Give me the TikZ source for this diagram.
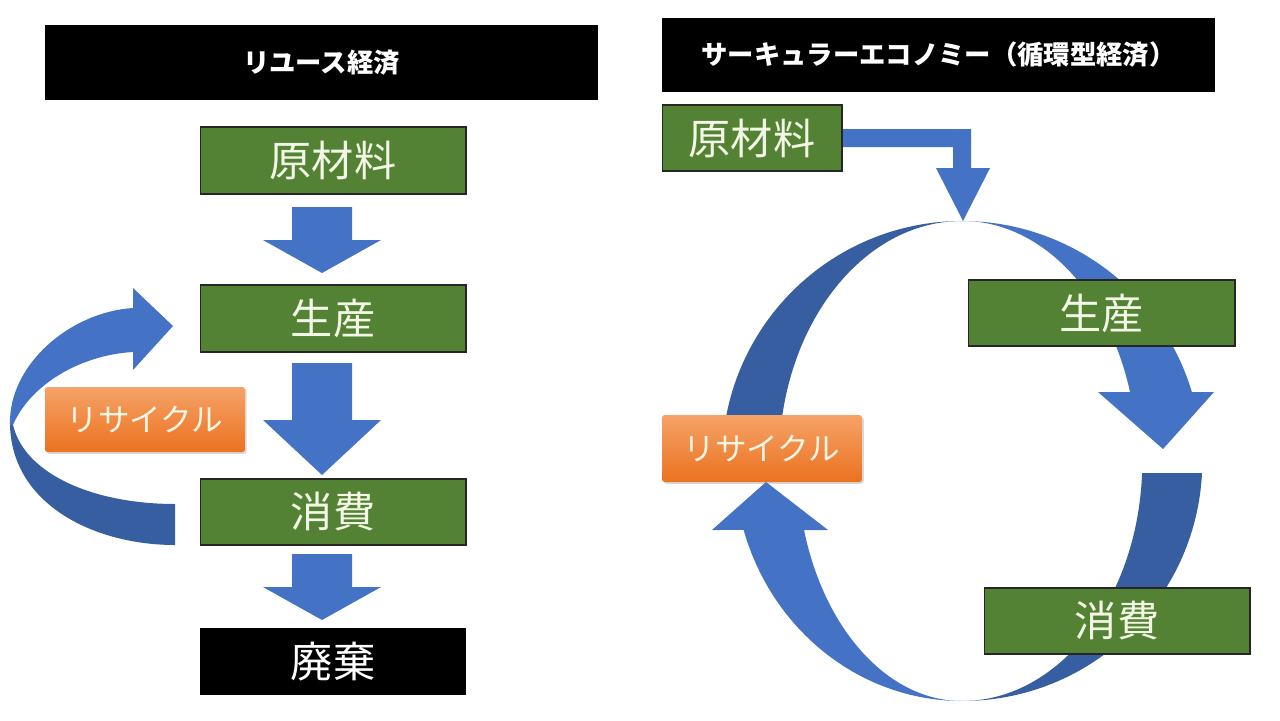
\documentclass[tikz,border=0pt]{standalone}
\usepackage{fontspec}
\newfontfamily\jp{Noto Sans CJK JP}
\usetikzlibrary{shadows,backgrounds}
\definecolor{boxgreen}{RGB}{84,130,53}
\definecolor{bluelight}{RGB}{68,114,196}
\definecolor{bluedark}{RGB}{55,94,160}
\definecolor{cream}{RGB}{242,246,228}
\definecolor{orlight}{RGB}{246,162,104}
\definecolor{ordark}{RGB}{235,114,32}
\newcommand\blockdown[4]{\fill[bluelight] (#1-30,#2) -- (#1+30,#2) -- (#1+30,#3) -- (#1+59,#3) -- (#1,#4) -- (#1-59,#3) -- (#1-30,#3) -- cycle;}
\tikzset{
  titlebox/.style={fill=black, text=white, inner sep=0pt, font=\jp\bfseries\fontsize{15}{15}\selectfont},
  greenbox/.style={fill=boxgreen, draw=black!85, line width=0.6pt, text=cream, inner sep=0pt, font=\jp\fontsize{24}{24}\selectfont},
  blackbox/.style={fill=black, text=white, inner sep=0pt, font=\jp\fontsize{24}{24}\selectfont},
  recbox/.style={top color=orlight, bottom color=ordark, rounded corners=1.5pt, text=cream, inner sep=0pt,
    drop shadow={opacity=0.3, shadow xshift=1pt, shadow yshift=-1pt},
    font=\jp\fontsize{18}{18}\selectfont, minimum width=4cm},
}
\begin{document}
\begin{tikzpicture}[x=0.02cm, y=-0.02cm]
\useasboundingbox (0,0) rectangle (1280,720);
% ---------- nodes ----------
\node[titlebox, minimum width=11.06cm, minimum height=1.5cm] (title1) at (321.5,62.5) {リユース経済};
\node[greenbox, minimum width=5.32cm, minimum height=1.34cm] (raw1) at (333,160.5) {原材料};
\node[greenbox, minimum width=5.32cm, minimum height=1.34cm] (prod1) at (333,318.5) {生産};
\node[greenbox, minimum width=5.32cm, minimum height=1.32cm] (cons1) at (333,512) {消費};
\node[blackbox, minimum width=5.32cm, minimum height=1.34cm] (waste1) at (333,661.5) {廃棄};
\node[recbox, minimum height=1.3cm] (rec1) at (145,419.5) {リサイクル};

\node[titlebox, minimum width=11.06cm, minimum height=1.48cm] (title2) at (938.5,55) {サーキュラーエコノミー（循環型経済）};
\node[greenbox, minimum width=3.6cm, minimum height=1.32cm] (raw2) at (752,138) {原材料};
\node[greenbox, minimum width=5.34cm, minimum height=1.32cm] (prod2) at (1101.5,313) {生産};
\node[greenbox, minimum width=5.32cm, minimum height=1.32cm] (cons2) at (1117,621) {消費};
\node[recbox, minimum height=1.34cm] (rec2) at (762,448.5) {リサイクル};

% ---------- arrows (behind nodes) ----------
\begin{scope}[on background layer]
\fill[white] (0,0) rectangle (1280,720);
% left column straight arrows
\blockdown{322}{207}{240}{273}
\blockdown{322}{363}{420}{475}
\blockdown{322}{554}{587}{620}
% left recycle arrow
\fill[bluedark] (10,425) .. controls (12,505) and (95,545) .. (175,545)
  -- (175,504) .. controls (95,504) and (25,475) .. (13,425) -- cycle;
\fill[bluelight] (10,425) .. controls (8,365) and (70,312) .. (133,308)
  -- (133,288) -- (173,326) -- (133,370) -- (133,352)
  .. controls (80,355) and (30,385) .. (13,425) -- cycle;
% right: bent arrow from raw material
\fill[bluelight] (raw2.east |- 0,129) -- (971,129) -- (971,168) -- (990,168) -- (963,221)
  -- (936,168) -- (953,168) -- (953,147) -- (raw2.east |- 0,147) -- cycle;
% ring: upper-left (dark)
\fill[bluedark] (962,221) arc[start angle=-90, end angle=-180, radius=240]
  -- (779,461) arc[start angle=-180, end angle=-90, x radius=183, y radius=240] -- cycle;
% ring: upper-right (light) with head
\fill[bluelight] (962,221) arc[start angle=-90, end angle=-16.7, radius=240]
  -- (1214,392) -- (1163,449) -- (1098,392) -- (1130,392)
  arc[start angle=-16.7, end angle=-90, x radius=175, y radius=240] -- cycle;
% ring: lower-right (dark)
\fill[bluedark] (1202,473) arc[start angle=2.87, end angle=90, radius=240]
  arc[start angle=90, end angle=2.87, x radius=180, y radius=240] -- cycle;
% ring: lower-left (light) with head
\fill[bluelight] (962,701) arc[start angle=90, end angle=163.3, x radius=228, y radius=240]
  -- (712,530) -- (766,482) -- (828,530) -- (804,530)
  arc[start angle=163.3, end angle=90, x radius=165, y radius=240] -- cycle;
\end{scope}
\end{tikzpicture}
\end{document}
